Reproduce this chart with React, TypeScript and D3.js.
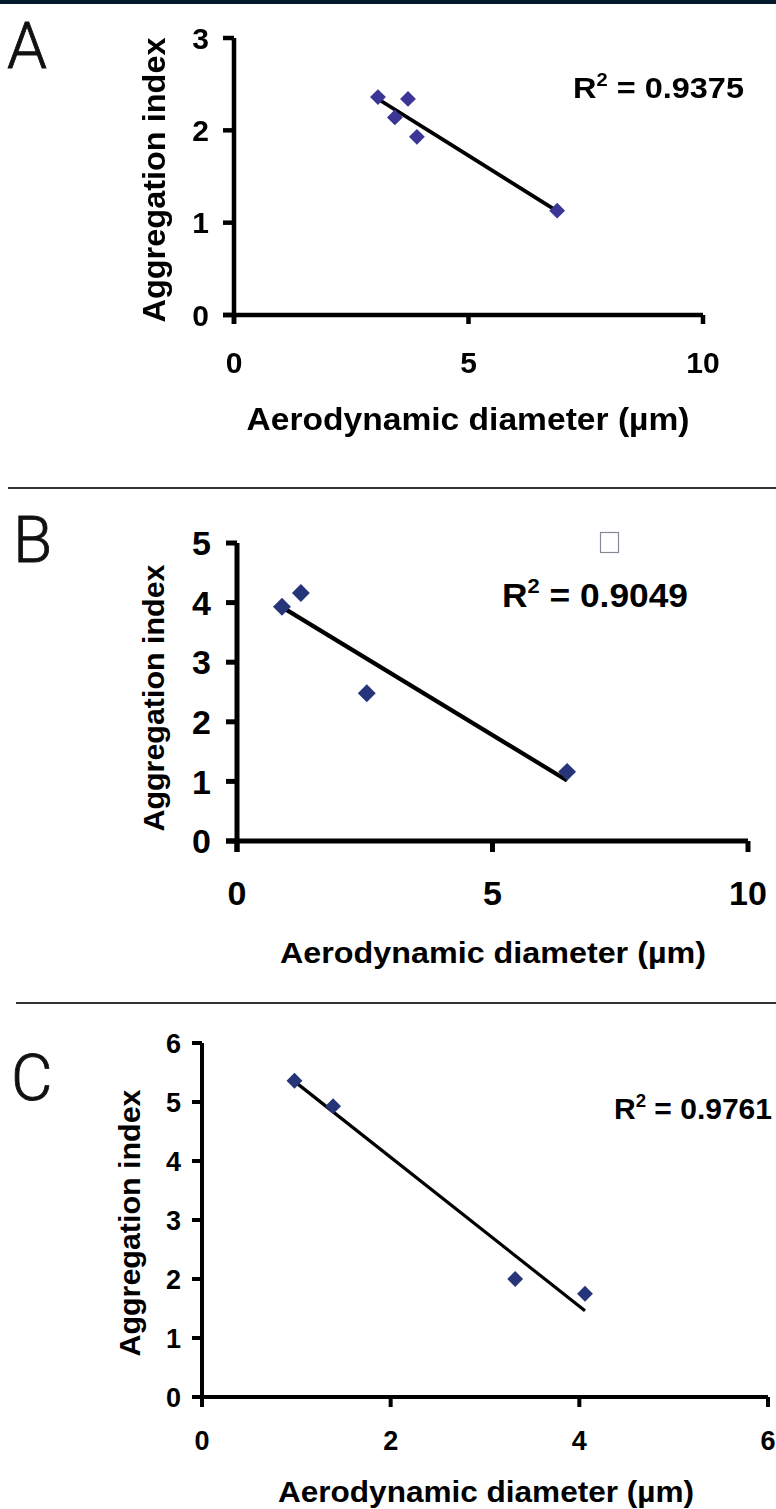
import React from "react";
import * as d3 from "d3";

// Panel A: aerodynamic diameter (µm) vs aggregation index
const aDiameter = [3.07, 3.43, 3.71, 3.9, 6.89];
const aIndex = [2.36, 2.14, 2.34, 1.93, 1.13];
const aXTicks = [0, 5, 10];
const aYTicks = [0, 1, 2, 3];
const aR2 = "0.9375";

// Panel B
const bDiameter = [0.88, 1.25, 2.54, 6.46];
const bIndex = [3.93, 4.16, 2.48, 1.16];
const bXTicks = [0, 5, 10];
const bYTicks = [0, 1, 2, 3, 4, 5];
const bR2 = "0.9049";

// Panel C
const cDiameter = [0.98, 1.39, 3.32, 4.06];
const cIndex = [5.36, 4.93, 2.0, 1.75];
const cXTicks = [0, 2, 4, 6];
const cYTicks = [0, 1, 2, 3, 4, 5, 6];
const cR2 = "0.9761";

const xTitle = "Aerodynamic diameter (µm)";
const yTitle = "Aggregation index";

const FONT = "'Liberation Sans', Arial, Helvetica, sans-serif";
const LETTER_FONT = "Roboto, 'Open Sans', 'Liberation Sans', sans-serif";

type PanelProps = {
  xs: number[];
  ys: number[];
  xTicks: number[];
  yTicks: number[];
  r2: string;
  left: number;
  right: number;
  top: number;
  bottom: number;
  axisWidth: number;
  lineWidth: number;
  yTickLen: number;
  xTickLen: number;
  tickFont: number;
  yLabelGap: number;
  xLabelOffset: number;
  titleFont: number;
  xTitleY: number;
  xTitleLen: number;
  xTitleCx: number;
  yTitleX: number;
  yTitleCy: number;
  yTitleLen: number;
  r2X: number;
  r2Y: number;
  r2Font: number;
  r2Len: number;
  markerArea: number;
  markerColor: string;
  filter?: string;
};

function linearFit(xs: number[], ys: number[]) {
  const mx = d3.mean(xs) as number;
  const my = d3.mean(ys) as number;
  let sxy = 0;
  let sxx = 0;
  xs.forEach((x, i) => {
    sxy += (x - mx) * (ys[i] - my);
    sxx += (x - mx) * (x - mx);
  });
  const slope = sxy / sxx;
  return { slope, intercept: my - slope * mx };
}

function Panel(p: PanelProps) {
  const xDom = d3.extent(p.xTicks) as [number, number];
  const yDom = d3.extent(p.yTicks) as [number, number];
  const x = d3.scaleLinear().domain(xDom).range([p.left, p.right]);
  const y = d3.scaleLinear().domain(yDom).range([p.bottom, p.top]);
  const { slope, intercept } = linearFit(p.xs, p.ys);
  const [xmin, xmax] = d3.extent(p.xs) as [number, number];
  const fitLine = d3
    .line<number>()
    .x((v) => x(v))
    .y((v) => y(slope * v + intercept))([xmin, xmax]);
  const diamond = d3.symbol(d3.symbolSquare, p.markerArea)();
  const x0 = x(xDom[0]);
  const y0 = y(yDom[0]);

  return (
    <g filter={p.filter}>
      {/* axes */}
      <line x1={x0} x2={x0} y1={y(yDom[1])} y2={y0 + p.xTickLen} stroke="#000" strokeWidth={p.axisWidth} />
      <line x1={x0 - p.yTickLen} x2={x(xDom[1])} y1={y0} y2={y0} stroke="#000" strokeWidth={p.axisWidth} />
      {p.yTicks.map((t) => (
        <g key={"yt" + t}>
          <line x1={x0 - p.yTickLen} x2={x0} y1={y(t)} y2={y(t)} stroke="#000" strokeWidth={p.axisWidth} />
          <text
            x={x0 - p.yLabelGap}
            y={y(t)}
            dy="0.36em"
            textAnchor="end"
            fontFamily={FONT}
            fontWeight="bold"
            fontSize={p.tickFont}
          >
            {t}
          </text>
        </g>
      ))}
      {p.xTicks.map((t) => (
        <g key={"xt" + t}>
          <line x1={x(t)} x2={x(t)} y1={y0} y2={y0 + p.xTickLen} stroke="#000" strokeWidth={p.axisWidth} />
          <text
            x={x(t)}
            y={y0 + p.xLabelOffset}
            textAnchor="middle"
            fontFamily={FONT}
            fontWeight="bold"
            fontSize={p.tickFont}
          >
            {t}
          </text>
        </g>
      ))}
      {/* titles */}
      <text
        x={p.xTitleCx}
        y={p.xTitleY}
        textAnchor="middle"
        fontFamily={FONT}
        fontWeight="bold"
        fontSize={p.titleFont}
        textLength={p.xTitleLen}
        lengthAdjust="spacingAndGlyphs"
      >
        {xTitle}
      </text>
      <text
        transform={`translate(${p.yTitleX},${p.yTitleCy}) rotate(-90)`}
        textAnchor="middle"
        fontFamily={FONT}
        fontWeight="bold"
        fontSize={p.titleFont}
        textLength={p.yTitleLen}
        lengthAdjust="spacingAndGlyphs"
      >
        {yTitle}
      </text>
      {/* regression line */}
      <path d={fitLine || ""} fill="none" stroke="#000" strokeWidth={p.lineWidth} />
      {/* points */}
      {p.xs.map((v, i) => (
        <path
          key={"pt" + i}
          d={diamond || ""}
          transform={`translate(${x(v)},${y(p.ys[i])}) rotate(45)`}
          fill={p.markerColor}
        />
      ))}
      {/* coefficient of determination */}
      <text
        x={p.r2X}
        y={p.r2Y}
        fontFamily={FONT}
        fontWeight="bold"
        fontSize={p.r2Font}
        textLength={p.r2Len}
        lengthAdjust="spacingAndGlyphs"
      >
        R
        <tspan dy={-p.r2Font * 0.4} fontSize={p.r2Font * 0.62}>
          2
        </tspan>
        <tspan dy={p.r2Font * 0.4}>{" = " + p.r2}</tspan>
      </text>
    </g>
  );
}

export default function App() {
  return (
    <svg
      width={776}
      height={1509}
      viewBox="0 0 776 1509"
      style={{ position: "absolute", left: 0, top: 0, display: "block", background: "#fff" }}
    >
      <defs>
        <filter id="soft" x="-5%" y="-5%" width="110%" height="110%">
          <feGaussianBlur stdDeviation="0.55" />
        </filter>
      </defs>
      <rect x={0} y={0} width={776} height={1509} fill="#fff" />
      <rect x={0} y={0} width={776} height={4} fill="#041a2c" />

      {/* panel letters */}
      <text x={7} y={68} fontFamily={LETTER_FONT} fontWeight={300} fontSize={64} fill="#111" stroke="#111" strokeWidth={0.8}>
        A
      </text>
      <text x={13} y={562} fontFamily={LETTER_FONT} fontWeight={300} fontSize={64} fill="#111" stroke="#111" strokeWidth={0.8}>
        B
      </text>
      <text x={11} y={1100} fontFamily={LETTER_FONT} fontWeight={300} fontSize={64} fill="#111" stroke="#111" strokeWidth={0.8}>
        C
      </text>

      {/* separators */}
      <line x1={8} x2={776} y1={488} y2={488} stroke="#333" strokeWidth={2} />
      <line x1={16} x2={776} y1={1003} y2={1003} stroke="#333" strokeWidth={2} />

      <Panel
        xs={aDiameter}
        ys={aIndex}
        xTicks={aXTicks}
        yTicks={aYTicks}
        r2={aR2}
        left={234}
        right={703}
        top={38}
        bottom={315}
        axisWidth={4.5}
        lineWidth={3.8}
        yTickLen={11}
        xTickLen={9}
        tickFont={30}
        yLabelGap={25}
        xLabelOffset={58}
        titleFont={31}
        xTitleY={430}
        xTitleLen={443}
        xTitleCx={468}
        yTitleX={165}
        yTitleCy={180}
        yTitleLen={285}
        r2X={573}
        r2Y={98}
        r2Font={29}
        r2Len={171}
        markerArea={125}
        markerColor="#3a3596"
        filter="url(#soft)"
      />

      <Panel
        xs={bDiameter}
        ys={bIndex}
        xTicks={bXTicks}
        yTicks={bYTicks}
        r2={bR2}
        left={237}
        right={748}
        top={543}
        bottom={841}
        axisWidth={5}
        lineWidth={4.2}
        yTickLen={11}
        xTickLen={11}
        tickFont={34}
        yLabelGap={26}
        xLabelOffset={64}
        titleFont={30}
        xTitleY={963}
        xTitleLen={426}
        xTitleCx={493}
        yTitleX={164}
        yTitleCy={698}
        yTitleLen={267}
        r2X={502}
        r2Y={607}
        r2Font={34}
        r2Len={186}
        markerArea={160}
        markerColor="#263479"
      />
      {/* empty glyph box beside the B caption */}
      <rect x={600.5} y={532.5} width={18} height={20} fill="#fff" stroke="#8d8496" strokeWidth={1.2} />

      <Panel
        xs={cDiameter}
        ys={cIndex}
        xTicks={cXTicks}
        yTicks={cYTicks}
        r2={cR2}
        left={202}
        right={768}
        top={1043}
        bottom={1397}
        axisWidth={4}
        lineWidth={3.2}
        yTickLen={10}
        xTickLen={10}
        tickFont={27}
        yLabelGap={21}
        xLabelOffset={53}
        titleFont={29}
        xTitleY={1502}
        xTitleLen={416}
        xTitleCx={486}
        yTitleX={140}
        yTitleCy={1223}
        yTitleLen={267}
        r2X={614}
        r2Y={1119}
        r2Font={29}
        r2Len={158}
        markerArea={125}
        markerColor="#263479"
      />
    </svg>
  );
}
